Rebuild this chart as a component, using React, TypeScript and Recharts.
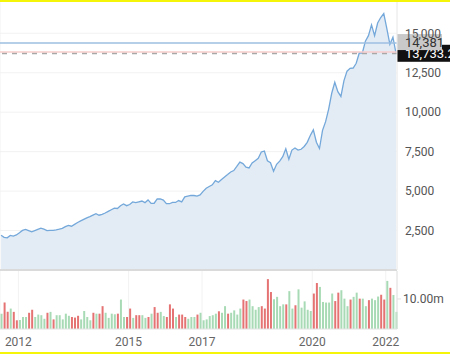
import React from 'react';
import { AreaChart, Area, BarChart, Bar, Cell, XAxis, YAxis, CartesianGrid, ReferenceLine } from 'recharts';

// monthly closes, Jul 2011 .. Apr 2022
const closes = [
  2200, 2070, 2040, 2190, 2150, 2220, 2360, 2510, 2570, 2490, 2415, 2490, 2570, 2650, 2590, 2500,
  2510, 2515, 2545, 2590, 2640, 2750, 2825, 2775, 2890, 3010, 3110, 3210, 3305, 3380, 3475, 3570,
  3470, 3520, 3610, 3715, 3820, 3925, 3900, 4070, 4180, 4075, 4150, 4310, 4265, 4320, 4370, 4270,
  4440, 4220, 4230, 4500, 4510, 4430, 4200, 4200, 4290, 4280, 4400, 4320, 4630, 4680, 4730, 4720,
  4680, 4760, 4980, 5180, 5290, 5400, 5660, 5560, 5730, 5900, 6050, 6210, 6300, 6560, 6840, 6740,
  6520, 6470, 6780, 6930, 7080, 7480, 7540, 6920, 6800, 6260, 6700, 6900, 7180, 7680, 7020, 7600,
  7730, 7600, 7650, 7830, 8090, 8520, 8880, 8100, 7700, 8850, 9400, 10200, 11200, 11900, 11300, 11000,
  12000, 12600, 12780, 12800, 13100, 13750, 13750, 14500, 14850, 15530, 14850, 15650, 16000, 16250, 15300, 14300,
  14750, 13733,
];

// volume in millions
const volumes = [
  5.1, 8.8, 5.7, 6.8, 5.7, 2.9, 3.0, 4.0, 4.0, 5.4, 6.4, 4.0, 4.8, 4.6, 3.4, 5.4,
  5.7, 3.2, 4.6, 4.6, 3.2, 5.1, 4.4, 4.0, 3.8, 4.4, 3.2, 6.0, 4.0, 2.9, 5.4, 5.1,
  5.1, 7.6, 5.4, 3.7, 5.1, 4.9, 5.1, 9.8, 4.0, 4.0, 6.8, 3.7, 4.6, 4.6, 4.6, 3.7,
  4.0, 5.1, 7.3, 5.4, 5.7, 4.3, 4.0, 8.2, 6.8, 4.0, 4.8, 4.8, 4.0, 3.4, 4.0, 4.0,
  4.8, 5.4, 2.9, 3.2, 4.3, 4.6, 5.1, 5.9, 5.4, 7.6, 5.1, 5.4, 6.2, 4.8, 6.8, 9.8,
  9.3, 9.8, 7.6, 6.4, 7.3, 7.6, 6.8, 16.6, 12.3, 9.9, 10.7, 7.6, 8.2, 8.2, 12.6, 6.8,
  7.9, 13.2, 7.1, 9.2, 6.4, 6.0, 11.8, 15.3, 14.0, 9.0, 8.8, 8.8, 11.8, 9.3, 12.1, 12.9,
  10.1, 7.6, 9.8, 10.7, 12.1, 10.1, 10.1, 7.6, 9.6, 10.1, 9.6, 10.8, 11.4, 9.8, 16.0, 13.7,
  11.3, 5.7,
];

// G = up month, R = down month
const moves =
  'GRRGRRGGGRRGGGGRGRGGGGGRRRGGGGRGRRGGGGRGGRRGRR' +
  'GGRGRRGGRRRGRRRGGGRGGGGGGRGGRGGGGRRGGGGRRRR' +
  'GGGGRGGRGGGGGRRGGGGGRRGGGRGGRGGRGGGRRGR';

const priceTicks = [2500, 5000, 7500, 10000, 12500, 15000];
const yearTicks = [2012, 2015, 2017, 2020, 2022];
const volumeTicks = [10];

const lastClose = 13733.2;
const markPrice = 14381;
const prevClose = 13820;

const START = 2011.5;
const END = 2022.306;

const rows = closes.map((close, i) => ({
  t: START + (i + 0.35) / 12,
  close,
  volume: volumes[i],
  up: moves[i] !== 'R',
}));

const UP = '#a8dbb5';
const DOWN = '#e57373';

const fmt = (v: number) => v.toLocaleString('en-US');

const tag = (text: string, bg: string, color: string, w: number, h: number, dy: number) =>
  (props: any) => {
    const { x, y, width } = props.viewBox;
    const left = x + width;
    return (
      <g>
        <rect x={left} y={y - h / 2 + dy} width={w} height={h} fill={bg} />
        <text x={left + 8} y={y + dy} dy="0.36em" fill={color} fontSize={13}>
          {text}
        </text>
      </g>
    );
  };

export default function App() {
  return (
    <div
      style={{
        position: 'fixed', left: 0, top: 0, width: 450, height: 354,
        background: '#fff', fontFamily: 'Roboto, sans-serif', overflow: 'hidden',
      }}
    >
      <div style={{ position: 'absolute', left: 0, top: 0 }}>
        <AreaChart width={450} height={272} data={rows} margin={{ top: 0, right: 0, left: 0, bottom: 0 }}>
          <CartesianGrid stroke="#f2f2f2" />
          <XAxis
            dataKey="t" type="number" domain={[START, END]} ticks={yearTicks}
            height={2} tick={false} tickLine={false}
            axisLine={{ stroke: '#dadada', strokeWidth: 2 }}
          />
          <YAxis
            orientation="right" width={53} domain={[0, 17110]} ticks={priceTicks}
            tickFormatter={fmt} tickLine={false} axisLine={{ stroke: '#ececec' }}
            tick={{ fill: '#555', fontSize: 12 }}
          />
          <Area
            type="linear" dataKey="close" stroke="#74a8da" strokeWidth={1.3}
            fill="#e3ecf5" fillOpacity={1} isAnimationActive={false} dot={false} activeDot={false}
          />
          <ReferenceLine
            y={lastClose} stroke="#a8a8a8" strokeWidth={1.8} strokeDasharray="5 5"
            label={tag(fmt(lastClose), '#111', '#fff', 53, 17, 0)}
          />
          <ReferenceLine y={prevClose} stroke="#f9cccc" strokeWidth={1.5} />
          <ReferenceLine
            y={markPrice} stroke="#9dbfe2" strokeWidth={1.5}
            label={tag(fmt(markPrice), '#c9c9c9', '#333', 45, 16, -1)}
          />
        </AreaChart>
      </div>
      <div style={{ position: 'absolute', left: 0, top: 271 }}>
        <BarChart width={450} height={83} data={rows} margin={{ top: 0, right: 0, left: 0, bottom: 0 }}>
          <CartesianGrid stroke="#f2f2f2" horizontal={false} />
          <XAxis
            dataKey="t" type="number" domain={[START, END]} ticks={yearTicks}
            tickFormatter={(v: number) => String(v)} height={25} tickLine={false}
            axisLine={{ stroke: '#e2e2e2' }} tick={{ fill: '#666', fontSize: 12 }}
          />
          <YAxis
            orientation="right" width={53} domain={[0, 19.3]} ticks={volumeTicks}
            tickFormatter={(v: number) => v.toFixed(2) + 'm'} tickSize={4}
            tickLine={{ stroke: '#e2e2e2' }} axisLine={{ stroke: '#e2e2e2' }}
            tick={{ fill: '#555', fontSize: 12 }}
          />
          <Bar dataKey="volume" barSize={2} isAnimationActive={false}>
            {rows.map((r, i) => (
              <Cell key={i} fill={r.up ? UP : DOWN} />
            ))}
          </Bar>
        </BarChart>
      </div>
      <div style={{ position: 'absolute', left: 0, top: 0, width: 450, height: 2, background: '#f5f50a' }} />
      <div style={{ position: 'absolute', left: 0, top: 352, width: 450, height: 2, background: '#f5f50a' }} />
    </div>
  );
}
